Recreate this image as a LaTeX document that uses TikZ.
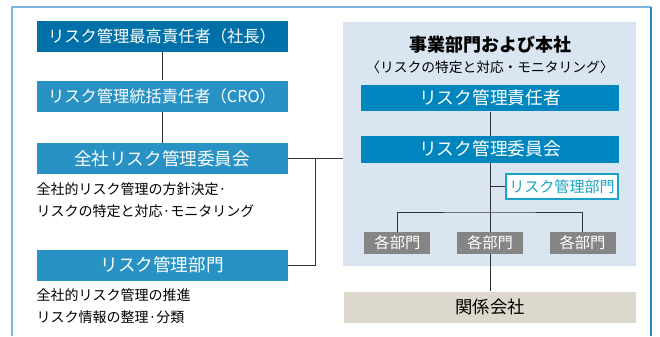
\documentclass[tikz,border=0pt]{standalone}
\usepackage{fontspec}
\setmainfont{Noto Sans CJK JP}
\usetikzlibrary{positioning}

\definecolor{ceoblue}{HTML}{0070A8}
\definecolor{leftblue}{HTML}{2892C4}
\definecolor{rightblue}{HTML}{0086BF}
\definecolor{panelblue}{HTML}{D9E6F1}
\definecolor{teal}{HTML}{1AA3C6}
\definecolor{deptgray}{HTML}{858585}
\definecolor{beige}{HTML}{DCD9CC}
\definecolor{framelight}{HTML}{7DB5DC}
\definecolor{framedark}{HTML}{2A85C2}

\begin{document}
\begin{tikzpicture}[x=0.75pt,y=-0.75pt,
	lbox/.style={fill=leftblue,text=white,inner sep=0pt,minimum width=188.25pt,minimum height=23.25pt},
	rbox/.style={fill=rightblue,text=white,inner sep=0pt,minimum width=193.5pt,minimum height=20pt,font=\fontsize{13.3pt}{15pt}\selectfont},
	deptbox/.style={fill=deptgray,text=white,inner sep=0pt,minimum width=49.5pt,minimum height=16.5pt,font=\fontsize{11.5pt}{13pt}\selectfont},
	desc/.style={inner sep=0pt,align=left,anchor=north west,font=\fontsize{10.5pt}{16.5pt}\selectfont},
	link/.style={draw=black!80,line width=0.75pt}]
	\useasboundingbox (0,0) rectangle (660,336);
	% outer frame
	\draw[framelight,line width=1pt] (12,336) -- (12,7) -- (651,7);
	\draw[framedark,line width=1pt] (651,7) -- (651,336);

	% left column
	\node[lbox,fill=ceoblue,font=\fontsize{12.2pt}{14pt}\selectfont] (ceo) at (162,36.5) {リスク管理最高責任者（社長）};
	\node[lbox,font=\fontsize{12.2pt}{14pt}\selectfont,below=21pt of ceo] (cro) {リスク管理統括責任者（CRO）};
	\node[lbox,font=\fontsize{13.2pt}{15pt}\selectfont,below=23.25pt of cro] (cmte) {全社リスク管理委員会};
	\node[desc] (cmtetxt) at ([yshift=-6pt]cmte.south west) {全社的リスク管理の方針決定·\\リスクの特定と対応·モニタリング};
	\node[lbox,font=\fontsize{13.2pt}{15pt}\selectfont,below=56.25pt of cmte] (dept) {リスク管理部門};
	\node[desc] (depttxt) at ([yshift=-6pt]dept.south west) {全社的リスク管理の推進\\リスク情報の整理·分類};

	% right panel
	\node[fill=panelblue,inner sep=0pt,minimum width=219.75pt,minimum height=183pt] (biz) at (489.5,144) {};
	\node[font=\bfseries\fontsize{13.5pt}{15pt}\selectfont] (biztitle) at (490,45) {事業部門および本社};
	\node[font=\fontsize{10.3pt}{12pt}\selectfont] (bizsub) at (490,67) {〈リスクの特定と対応・モニタリング〉};
	\node[rbox] (rm) at (490,98) {リスク管理責任者};
	\node[rbox,below=18pt of rm] (rc) {リスク管理委員会};
	\node[draw=teal,line width=0.9pt,fill=white,text=teal,inner sep=0pt,minimum width=84pt,minimum height=18.75pt,font=\fontsize{11.3pt}{13pt}\selectfont] (rdept) at (562,186.5) {リスク管理部門};
	\node[deptbox,below=51.75pt of rc] (d2) {各部門};
	\node[deptbox,left=19.5pt of d2] (d1) {各部門};
	\node[deptbox,right=19.5pt of d2] (d3) {各部門};
	\node[fill=beige,inner sep=0pt,minimum width=219pt,minimum height=23.25pt,font=\fontsize{13pt}{15pt}\selectfont,below=27.75pt of d2] (kk) {関係会社};

	% connectors
	\coordinate (jn) at (315,0 |- cmte.east);
	\coordinate (br) at (490,212);
	\draw[link] (ceo) -- (cro);
	\draw[link] (cro) -- (cmte);
	\draw[link] (cmte.east) -- (cmte.east -| biz.west);
	\draw[link] (dept.east) -| (jn);
	\draw[link] (rm) -- (rc);
	\draw[link] (rc) -- (d2);
	\draw[link] (rdept.west) -- (rdept.west -| rc.south);
	\draw[link] (d1.north) |- (br) -| (d3.north);
	\draw[link] (d2) -- (kk);
\end{tikzpicture}
\end{document}
